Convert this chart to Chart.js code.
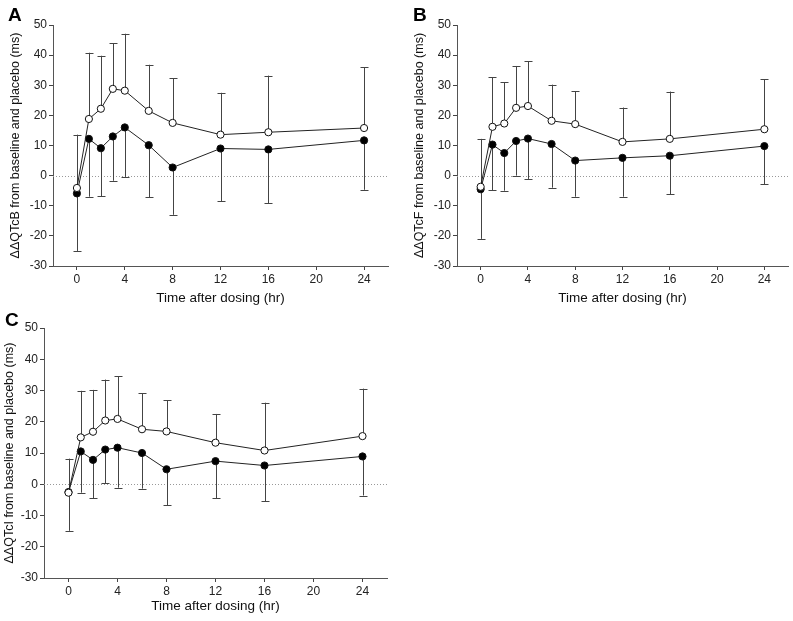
<!DOCTYPE html>
<html>
<head>
<meta charset="utf-8">
<script src="https://cdn.jsdelivr.net/npm/chart.js@4/dist/chart.umd.min.js"></script>
<style>
  body { margin: 0; background: #fff; }
  #wrap { position: relative; width: 793px; height: 621px; overflow: hidden; }
  canvas { position: absolute; }
  .lab { position: absolute; font: bold 19px "Liberation Sans", Arial, sans-serif; color: #000; }
</style>
</head>
<body>
<div id="wrap">
  <canvas id="panel-a" width="396" height="310" style="left:0;top:0"></canvas>
  <canvas id="panel-b" width="389" height="310" style="left:404px;top:0"></canvas>
  <canvas id="panel-c" width="396" height="311" style="left:0;top:310px"></canvas>
  <div class="lab" style="left:8px;top:4px">A</div>
  <div class="lab" style="left:413px;top:4px">B</div>
  <div class="lab" style="left:5px;top:309px">C</div>
</div>
<script>
// time points (hr)
const times = [0, 1, 2, 3, 4, 6, 8, 12, 16, 24];
const xTicks = [0, 4, 8, 12, 16, 20, 24];

// panel A - QTcB
const openA = [-4.1, 18.8, 22.2, 28.8, 28.2, 21.5, 17.5, 13.6, 14.4, 15.8];
const openUpA = [13.6, 40.8, 39.8, 44.0, 47.1, 36.8, 32.3, 27.5, 33.2, 35.9];
const filledA = [-5.9, 12.2, 9.1, 13.0, 16.0, 10.1, 2.7, 9.0, 8.7, 11.7];
const filledLowA = [-25, -7.0, -6.8, -1.7, -0.4, -7.1, -13.0, -8.5, -9.1, -4.7];

// panel B - QTcF
const openB = [-3.7, 16.2, 17.3, 22.5, 23.1, 18.2, 17.1, 11.2, 12.2, 15.4];
const openUpB = [12.2, 32.7, 31.0, 36.4, 37.9, 30.2, 28.0, 22.6, 27.9, 32.0];
const filledB = [-4.5, 10.3, 7.5, 11.5, 12.3, 10.5, 5.0, 5.9, 6.6, 9.8];
const filledLowB = [-21, -4.8, -5.0, 0, -1.1, -4.0, -7.0, -7.0, -6.1, -2.9];

// panel C - QTcI
const openC = [-2.7, 15.0, 16.8, 20.4, 20.9, 17.6, 16.9, 13.3, 10.8, 15.4];
const openUpC = [8.2, 29.9, 30.2, 33.5, 34.6, 29.1, 26.9, 22.5, 26.1, 30.6];
const filledC = [-2.5, 10.5, 7.8, 11.1, 11.7, 10.0, 4.8, 7.4, 6.0, 8.9];
const filledLowC = [-14.9, -2.7, -4.4, 0.4, -1.1, -1.4, -6.7, -4.4, -5.5, -3.6];

const FONT = '"Liberation Sans", Arial, Helvetica, sans-serif';

// error bars + dotted zero line, drawn under the markers
const errorBars = {
  id: 'errorBars',
  beforeDatasetsDraw(chart) {
    const {ctx, chartArea, scales: {x, y}} = chart;
    ctx.save();
    ctx.strokeStyle = '#999';
    ctx.lineWidth = 1;
    ctx.setLineDash([1, 2]);
    ctx.beginPath();
    ctx.moveTo(chartArea.left, Math.round(y.getPixelForValue(0)) + 0.5);
    ctx.lineTo(chartArea.right, Math.round(y.getPixelForValue(0)) + 0.5);
    ctx.stroke();
    ctx.setLineDash([]);
    ctx.strokeStyle = '#444';
    chart.data.datasets.forEach(ds => {
      ds.data.forEach((p, i) => {
        const px = Math.round(x.getPixelForValue(p.x)) + 0.5;
        const y0 = y.getPixelForValue(p.y);
        const y1 = y.getPixelForValue(ds.errEnd[i]);
        ctx.beginPath();
        ctx.moveTo(px, y0);
        ctx.lineTo(px, y1);
        ctx.moveTo(px - 4, Math.round(y1) + 0.5);
        ctx.lineTo(px + 4, Math.round(y1) + 0.5);
        ctx.stroke();
      });
    });
    ctx.restore();
  }
};

function series(vals, err, fill) {
  return {
    data: times.map((t, i) => ({x: t, y: vals[i]})),
    errEnd: err,
    showLine: true,
    borderColor: '#222',
    borderWidth: 1,
    pointRadius: 3.6,
    pointBorderWidth: 1,
    pointBorderColor: '#111',
    pointBackgroundColor: fill,
    fill: false
  };
}

function makePanel(id, yTitle, open, openUp, filled, filledLow, lay) {
  return new Chart(document.getElementById(id), {
    type: 'scatter',
    data: {
      datasets: [
        series(open, openUp, '#fff'),
        series(filled, filledLow, '#000')
      ]
    },
    options: {
      responsive: false,
      animation: false,
      layout: {padding: {top: lay.top, right: lay.right, bottom: 0, left: 0}},
      plugins: {legend: {display: false}, tooltip: {enabled: false}},
      scales: {
        x: {
          type: 'linear',
          min: -2,
          max: 26,
          afterBuildTicks: s => { s.ticks = xTicks.map(v => ({value: v})); },
          afterFit: s => { s.height = lay.xh; },
          grid: {drawOnChartArea: false, tickLength: 4, color: '#444'},
          border: {color: '#555', width: 1},
          ticks: {padding: 2, color: '#222', font: {family: FONT, size: 12}},
          title: {display: true, text: 'Time after dosing (hr)', color: '#111',
                  padding: {top: 0, bottom: lay.xtp}, font: {family: FONT, size: 13.5}}
        },
        y: {
          min: -30,
          max: 50,
          afterFit: s => { s.width = lay.yw; },
          grid: {drawOnChartArea: false, tickLength: 4, color: '#444'},
          border: {color: '#555', width: 1},
          ticks: {stepSize: 10, padding: 2, color: '#222', font: {family: FONT, size: 12}},
          title: {display: true, text: yTitle, color: '#111',
                  padding: {top: lay.ytp, bottom: 0}, font: {family: FONT, size: 12.5}}
        }
      }
    },
    plugins: [errorBars]
  });
}

makePanel('panel-a', 'ΔΔQTcB from baseline and placebo (ms)',
  openA, openUpA, filledA, filledLowA,
  {top: 25, right: 8, xh: 44, xtp: 4, yw: 53, ytp: 8});
makePanel('panel-b', 'ΔΔQTcF from baseline and placebo (ms)',
  openB, openUpB, filledB, filledLowB,
  {top: 25, right: 1, xh: 44, xtp: 4, yw: 53, ytp: 8});
makePanel('panel-c', 'ΔΔQTcI from baseline and placebo (ms)',
  openC, openUpC, filledC, filledLowC,
  {top: 18, right: 9, xh: 43, xtp: 7, yw: 44, ytp: 2});
</script>
</body>
</html>
